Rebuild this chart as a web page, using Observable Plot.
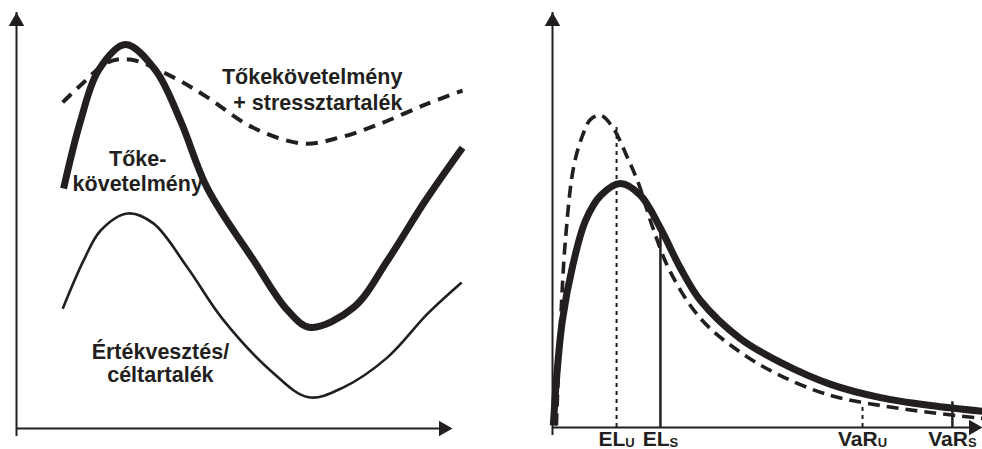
<!DOCTYPE html>
<html><head><meta charset="utf-8">
<script src="https://cdn.jsdelivr.net/npm/d3@7"></script>
<script src="https://cdn.jsdelivr.net/npm/@observablehq/plot@0.6"></script>
<style>
html,body{margin:0;padding:0;background:#fff;}
#wrap{position:relative;width:982px;height:449px;overflow:hidden;background:#fff;}
#left,#right{position:absolute;top:0;}
#left{left:0;} #right{left:492px;}
</style></head><body><div id="wrap"><div id="left"></div><div id="right"></div></div>
<script>
const INK = "#231f20";
const FONT = "'Liberation Sans', Arial, Helvetica, sans-serif";

// ---- Left panel: capital requirement curves over time ----
const reqX = [10.8, 14.7, 18.8, 25.0, 31.9, 37.6, 43.8, 54.4, 62.2, 67.4, 77.3, 85.1, 93.8, 102.3];
const reqY = [57.7, 74.0, 86.1, 92.3, 86.1, 74.0, 57.7, 40.4, 28.4, 24.3, 29.1, 40.4, 54.8, 67.5];
const stressX = [10.6, 15.4, 20.9, 26.1, 36.0, 43.8, 54.1, 65.8, 74.3, 83.5, 94.3, 102.3];
const stressY = [78.4, 83.2, 88.0, 88.7, 84.4, 79.6, 72.4, 68.5, 70.0, 73.3, 78.1, 81.2];
const lossX = [10.6, 15.4, 19.3, 25.5, 31.4, 39.2, 47.2, 58.3, 67.0, 75.0, 85.1, 94.3, 102.1];
const lossY = [28.8, 40.4, 47.6, 51.7, 49.3, 38.7, 26.4, 13.9, 7.5, 9.9, 17.1, 27.6, 35.1];

const leftText = ["Tőkekövetelmény", "+ stressztartalék", "Tőke-", "követelmény", "Értékvesztés/", "céltartalék"];
const leftTextX = [88.5, 88.5, 27.8, 27.8, 33.0, 33.0];
const leftTextY = [82.9, 76.6, 63.0, 57.1, 16.6, 11.1];
const leftTextAnchor = ["end", "end", "middle", "middle", "middle", "middle"];

// ---- Right panel: loss distributions ----
const distSX = [0.2, 0.9, 2.3, 4.7, 7.7, 11.2, 15.8, 20.5, 25.1, 29.8, 34.4, 43.7, 53.0, 64.7, 76.3, 87.9, 100];
const distSY = [0.5, 11.3, 25.8, 39.0, 49.9, 55.9, 58.8, 55.9, 48.0, 38.3, 30.6, 21.4, 15.7, 10.4, 7.2, 5.3, 3.9];
const distUX = [0.9, 1.9, 3.0, 4.9, 7.0, 8.8, 11.2, 14.2, 17.4, 20.0, 23.3, 27.4, 34.4, 43.7, 53.0, 64.7, 76.3, 87.9, 100];
const distUY = [0.5, 25.8, 45.1, 62.7, 70.4, 74.2, 75.2, 72.0, 65.1, 58.8, 48.2, 37.5, 26.3, 18.1, 12.5, 7.7, 5.3, 3.6, 2.2];

const markLabel = ["EL_U", "EL_S", "VaR_U", "VaR_S"];
const markX = [14.9, 25.1, 72.1, 93.0];
const markTop = [72.5, 48.0, 5.3, 6.2];
const markDashed = [true, false, true, false];

const pts = (xs, ys) => xs.map((x, i) => ({x, y: ys[i]}));
const idx = a => a.map((_, i) => i);

const arrowR = 5.8;
const arrowOff = 2 * Math.sqrt(Math.PI * arrowR * arrowR / (3 * Math.sqrt(3)));

function axes() {
  return [
    Plot.ruleX([0], {y1: 0, y2: 100, stroke: INK, strokeWidth: 2, insetTop: 8}),
    Plot.ruleY([0], {x1: 0, x2: 100, stroke: INK, strokeWidth: 2, insetRight: 8}),
    Plot.dot([0], {x: 0, y: 100, symbol: "triangle", r: arrowR, fill: INK, stroke: "none", dy: arrowOff}),
    Plot.dot([0], {x: 100, y: 0, symbol: "triangle", r: arrowR, fill: INK, stroke: "none", rotate: 90, dx: -arrowOff})
  ];
}

const left = Plot.plot({
  width: 480, height: 449,
  marginLeft: 16, marginRight: 28, marginTop: 12, marginBottom: 21,
  x: {domain: [0, 100], axis: null},
  y: {domain: [0, 100], axis: null},
  style: {fontFamily: FONT, background: "transparent", overflow: "visible"},
  marks: [
    ...axes(),
    Plot.line(pts(lossX, lossY), {x: "x", y: "y", curve: "catmull-rom", stroke: INK, strokeWidth: 2.6, strokeLinecap: "butt"}),
    Plot.line(pts(stressX, stressY), {x: "x", y: "y", curve: "catmull-rom", stroke: INK, strokeWidth: 4, strokeDasharray: "12,8", strokeLinecap: "butt"}),
    Plot.line(pts(reqX, reqY), {x: "x", y: "y", curve: "catmull-rom", stroke: INK, strokeWidth: 7, strokeLinecap: "butt"}),
    Plot.text(idx(leftText), {
      x: i => leftTextX[i], y: i => leftTextY[i], text: i => leftText[i],
      lineAnchor: "bottom", fontSize: 21.5, fontWeight: "bold", fill: INK
    })
  ]
});
document.getElementById("left").append(left);

const right = Plot.plot({
  width: 490, height: 449,
  marginLeft: 60, marginRight: 0, marginTop: 12, marginBottom: 22,
  x: {domain: [0, 100], axis: null},
  y: {domain: [0, 100], axis: null},
  style: {fontFamily: FONT, background: "transparent", overflow: "visible"},
  marks: [
    ...axes(),
    Plot.ruleX(idx(markX).filter(i => markDashed[i]), {x: i => markX[i], y1: 0, y2: i => markTop[i], stroke: INK, strokeWidth: 2, strokeDasharray: "4,4"}),
    Plot.ruleX(idx(markX).filter(i => !markDashed[i]), {x: i => markX[i], y1: 0, y2: i => markTop[i], stroke: INK, strokeWidth: 2.5}),
    Plot.line(pts(distUX, distUY), {x: "x", y: "y", curve: "catmull-rom", stroke: INK, strokeWidth: 3.6, strokeDasharray: "12,7", strokeLinecap: "butt"}),
    Plot.line(pts(distSX, distSY), {x: "x", y: "y", curve: "catmull-rom", stroke: INK, strokeWidth: 7, strokeLinecap: "butt"}),
    Plot.text(idx(markX), {x: i => markX[i], y: 0, text: i => markLabel[i], dy: 18, lineAnchor: "bottom",
      textAnchor: "middle", fontSize: 21, fontWeight: "bold", fill: INK})
  ]
});
document.getElementById("right").append(right);

// subscripts
const NS = "http://www.w3.org/2000/svg";
right.querySelectorAll("text").forEach(t => {
  const m = t.textContent.match(/^(.+)_(.+)$/);
  if (!m) return;
  t.textContent = "";
  const a = document.createElementNS(NS, "tspan"); a.textContent = m[1];
  const b = document.createElementNS(NS, "tspan"); b.textContent = m[2];
  b.setAttribute("font-size", "13"); b.setAttribute("dy", "1.5");
  t.append(a, b);
});
// per-line anchors in left panel
left.querySelectorAll("g[aria-label='text'] text").forEach((t, i) => t.setAttribute("text-anchor", leftTextAnchor[i]));
</script></body></html>
